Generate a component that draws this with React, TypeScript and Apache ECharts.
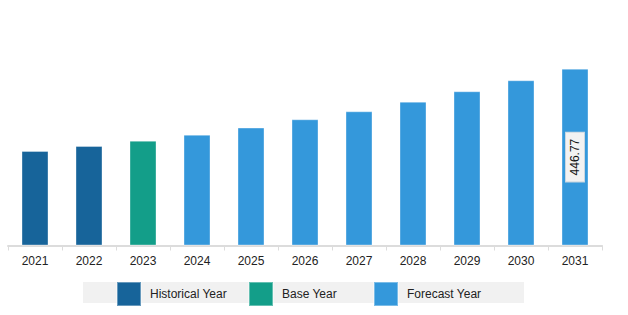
import React, { useEffect, useRef } from "react";
import * as echarts from "echarts";

const years = ["2021", "2022", "2023", "2024", "2025", "2026", "2027", "2028", "2029", "2030", "2031"];
const historical = [238.8, 251.4, "-", "-", "-", "-", "-", "-", "-", "-", "-"];
const base = ["-", "-", 264.8, "-", "-", "-", "-", "-", "-", "-", "-"];
const forecast = ["-", "-", "-", 280.0, 298.0, 318.9, 339.1, 363.4, 389.7, 417.5, 446.77];
const labelledIndex = 10;

const FONT = "Arial, 'Liberation Sans', sans-serif";

export default function App() {
  const ref = useRef<HTMLDivElement>(null);
  useEffect(() => {
    if (!ref.current) return;
    const chart = echarts.init(ref.current, undefined, { renderer: "svg" });
    const barBase = {
      type: "bar",
      barWidth: 27,
      barGap: "-100%",
    };
    const legendCommon = {
      top: 281,
      padding: 0,
      itemWidth: 24,
      itemHeight: 24,
      icon: "rect",
      selectedMode: false,
      textStyle: { fontFamily: FONT, fontSize: 12, color: "#222", padding: [0, 0, 0, 4] },
    };
    chart.setOption({
      animation: false,
      grid: { left: 8, right: 26, top: 47.6, bottom: 69.5, containLabel: false },
      xAxis: {
        type: "category",
        data: years,
        axisLine: { lineStyle: { color: "#dcdcdc", width: 2 } },
        axisTick: { show: true, length: 5, lineStyle: { color: "#dcdcdc", width: 1 } },
        axisLabel: { fontFamily: FONT, fontSize: 12, color: "#222", margin: 9 },
      },
      yAxis: {
        type: "value",
        min: 0,
        max: 500,
        show: false,
        splitLine: { show: false },
      },
      graphic: [
        {
          type: "rect",
          z: -1,
          shape: { x: 83, y: 282, width: 441, height: 21 },
          style: { fill: "#f1f1f1" },
        },
      ],
      legend: [
        { ...legendCommon, left: 116, data: ["Historical Year"] },
        { ...legendCommon, left: 248, data: ["Base Year"] },
        { ...legendCommon, left: 373, data: ["Forecast Year"] },
      ],
      series: [
        {
          ...barBase,
          name: "Historical Year",
          data: historical,
          itemStyle: { color: "#17649a", borderColor: "rgba(255,255,255,0.35)", borderWidth: 1 },
        },
        {
          ...barBase,
          name: "Base Year",
          data: base,
          itemStyle: { color: "#139e89", borderColor: "rgba(255,255,255,0.35)", borderWidth: 1 },
        },
        {
          ...barBase,
          name: "Forecast Year",
          data: forecast.map((v, i) =>
            i === labelledIndex
              ? {
                  value: v,
                  label: {
                    show: true,
                    position: "inside",
                    rotate: 90,
                    formatter: "{c}",
                    fontFamily: FONT,
                    fontSize: 12,
                    color: "#111",
                    backgroundColor: "#f2f2f2",
                    borderColor: "#c9d6e0",
                    borderWidth: 1,
                    padding: [3, 6],
                  },
                }
              : v
          ),
          itemStyle: { color: "#3498db", borderColor: "rgba(255,255,255,0.35)", borderWidth: 1 },
        },
      ],
    });
    return () => chart.dispose();
  }, []);
  return (
    <div
      ref={ref}
      style={{ position: "fixed", left: 0, top: 0, width: 628, height: 315, background: "#fff" }}
    />
  );
}
